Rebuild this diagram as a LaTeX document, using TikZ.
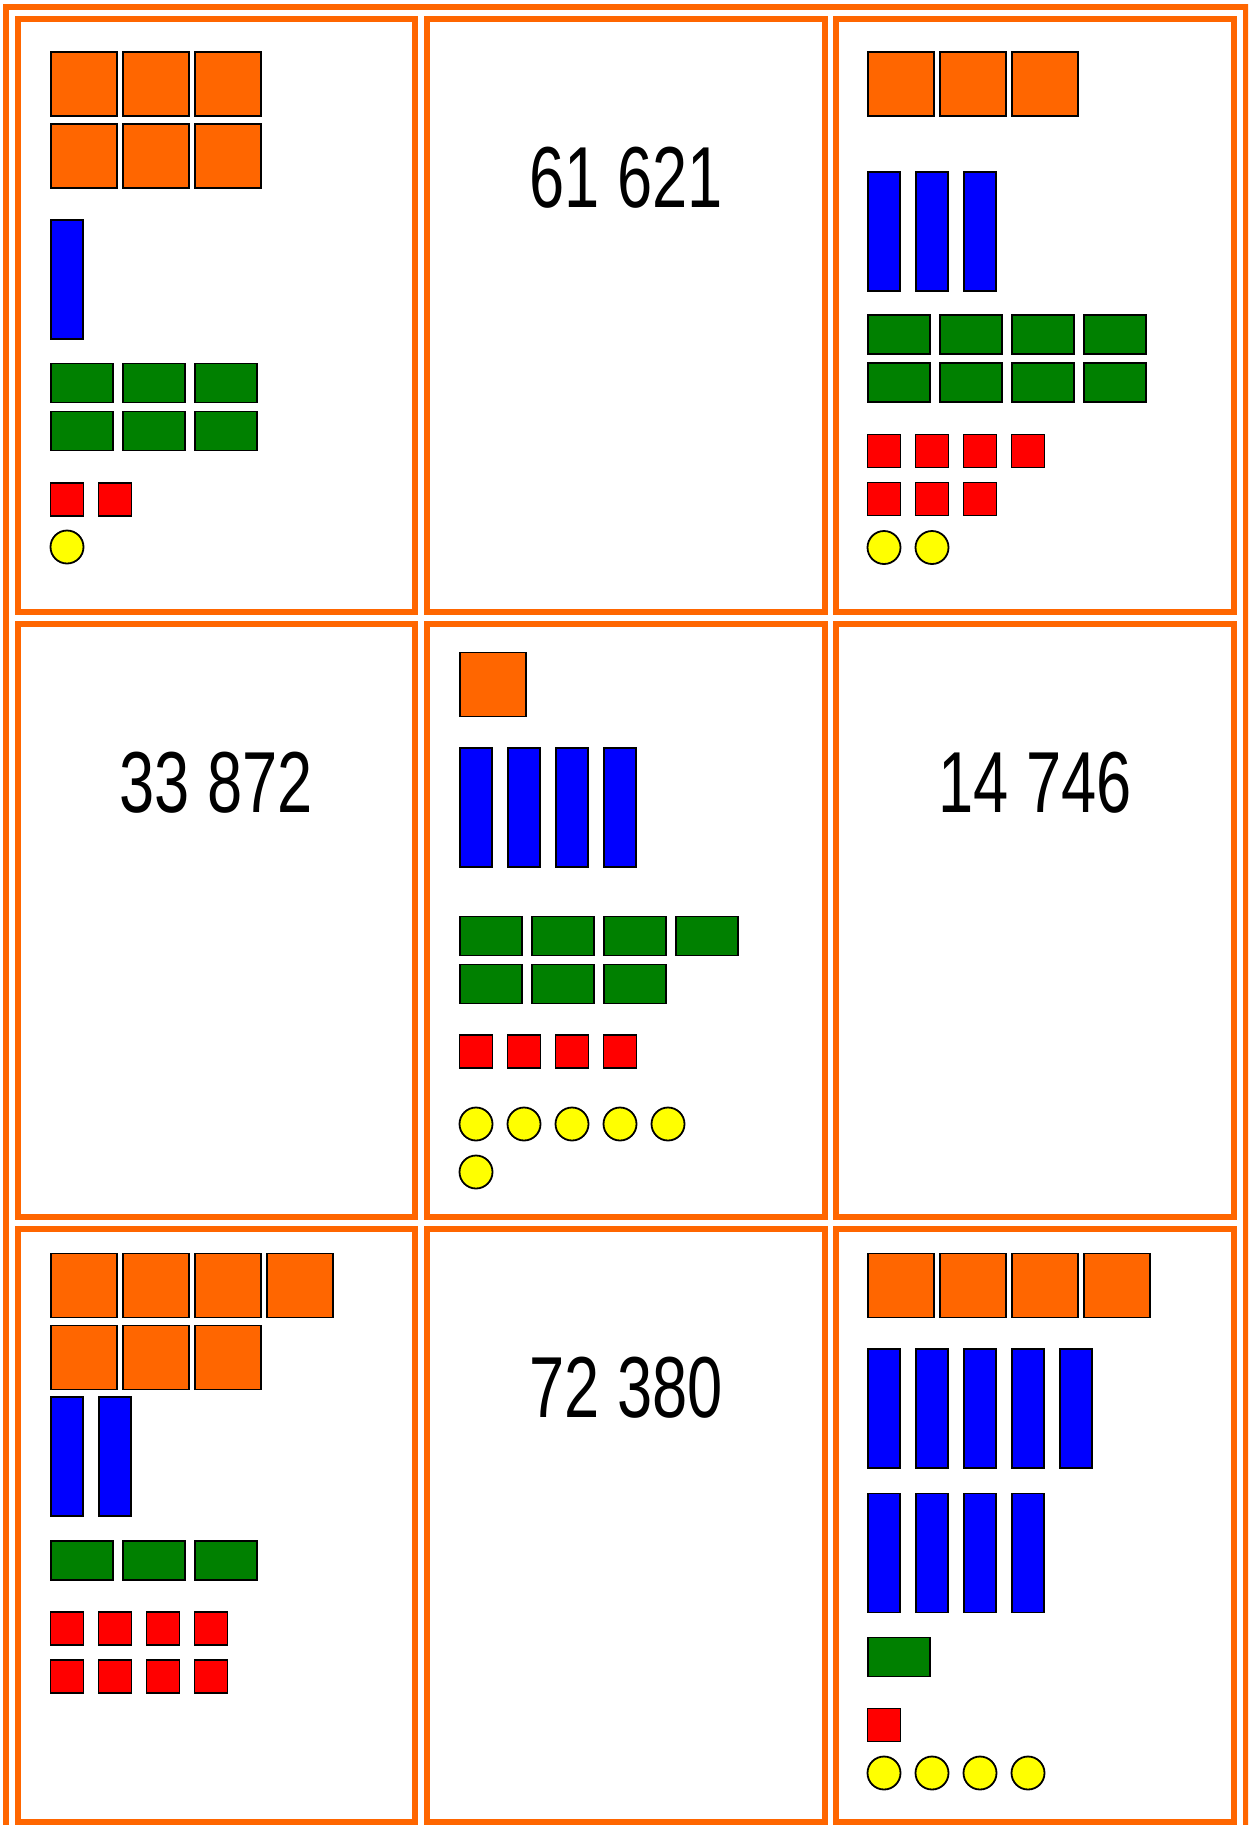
\documentclass[tikz,border=0pt]{standalone}
\usepackage{fontspec}
\usepackage{xcolor}
\usepackage{tikz}
\usetikzlibrary{positioning, calc}

\newfontfamily\numfont[FakeStretch=0.73]{Liberation Sans}

\definecolor{cardorange}{HTML}{FF6600}
\definecolor{rodblue}{HTML}{0000FF}
\definecolor{flatgreen}{HTML}{008000}
\definecolor{cubered}{HTML}{FF0000}
\definecolor{dotyellow}{HTML}{FFFF00}

\begin{document}
\begin{tikzpicture}[
      x=1pt, y=-1pt,
      block/.style={
          draw=black,
          line width=1.8pt,
          inner sep=0pt,
          outer sep=0pt
      },
      myriadbox/.style={block, fill=cardorange, minimum width=66pt, minimum height=64pt},
      thoubox/.style={block, fill=rodblue, minimum width=32pt, minimum height=119pt},
      hundbox/.style={block, fill=flatgreen, minimum width=62pt, minimum height=39pt},
      tenbox/.style={block, fill=cubered, minimum size=33pt},
      unitdot/.style={block, circle, fill=dotyellow, minimum size=33pt},
      card/.style={
          draw=cardorange,
          line width=6pt,
          minimum width=397.5pt,
          minimum height=593pt,
          inner sep=0pt,
          outer sep=0pt
      },
      numlbl/.style={
          font=\numfont\fontsize{86.6pt}{90pt}\selectfont,
          anchor=base,
          inner sep=0pt
      }
  ]
      \useasboundingbox (0,0) rectangle (1248,1825);
      \clip (0,0) rectangle (1248,1825);

      % --- Frame and cards ---
      \draw[cardorange, line width=6pt] (6,7) rectangle (1246,1834);

      \node[card] (card11) at (216.5,315.5) {};
      \node[card] (card12) at (626,315.5) {};
      \node[card] (card13) at (1035,315.5) {};
      \node[card] (card21) at (216.5,920.5) {};
      \node[card] (card22) at (626,920.5) {};
      \node[card] (card23) at (1035,920.5) {};
      \node[card] (card31) at (216.5,1525.5) {};
      \node[card] (card32) at (626,1525.5) {};
      \node[card] (card33) at (1035,1525.5) {};

      % --- Numbers ---
      \node[numlbl] (num12) at ($(card12.north) + (0,188)$) {61 621};
      \node[numlbl] (num21) at ($(card21.north) + (0,188)$) {33 872};
      \node[numlbl] (num23) at ($(card23.north) + (0,188)$) {14 746};
      \node[numlbl] (num32) at ($(card32.north) + (0,188)$) {72 380};

      % --- Card 11 ---
      \foreach \i in {0,1,2} {
          \node[myriadbox] (a-m1-\i) at ({84+72*\i},84) {};
          \node[myriadbox] (a-m2-\i) at ({84+72*\i},156) {};
          \node[hundbox] (a-h1-\i) at ({82+72*\i},383) {};
          \node[hundbox] (a-h2-\i) at ({82+72*\i},431) {};
      }
      \node[thoubox] (a-t0) at (67,279.5) {};
      \foreach \i in {0,1}
          \node[tenbox] (a-r-\i) at ({67+48*\i},499.5) {};
      \node[unitdot] (a-u0) at (67,547) {};

      % --- Card 13 ---
      \foreach \i in {0,1,2} {
          \node[myriadbox] (c-m-\i) at ({901+72*\i},84) {};
          \node[thoubox] (c-t-\i) at ({884+48*\i},231.5) {};
          \node[tenbox] (c-r2-\i) at ({884+48*\i},499) {};
      }
      \foreach \i in {0,...,3} {
          \node[hundbox] (c-h1-\i) at ({899+72*\i},334.5) {};
          \node[hundbox] (c-h2-\i) at ({899+72*\i},382.5) {};
          \node[tenbox] (c-r1-\i) at ({884+48*\i},451) {};
      }
      \foreach \i in {0,1}
          \node[unitdot] (c-u-\i) at ({884+48*\i},547.5) {};

      % --- Card 22 ---
      \node[myriadbox] (e-m0) at (493,684.5) {};
      \foreach \i in {0,...,3} {
          \node[thoubox] (e-t-\i) at ({476+48*\i},807.5) {};
          \node[hundbox] (e-h1-\i) at ({491+72*\i},936) {};
          \node[tenbox] (e-r-\i) at ({476+48*\i},1051.5) {};
      }
      \foreach \i in {0,1,2}
          \node[hundbox] (e-h2-\i) at ({491+72*\i},984) {};
      \foreach \i in {0,...,4}
          \node[unitdot] (e-u1-\i) at ({476+48*\i},1124) {};
      \node[unitdot] (e-u2-0) at (476,1172) {};

      % --- Card 31 ---
      \foreach \i in {0,...,3} {
          \node[myriadbox] (g-m1-\i) at ({84+72*\i},1285.5) {};
          \node[tenbox] (g-r1-\i) at ({67+48*\i},1628.5) {};
          \node[tenbox] (g-r2-\i) at ({67+48*\i},1676.5) {};
      }
      \foreach \i in {0,1,2} {
          \node[myriadbox] (g-m2-\i) at ({84+72*\i},1357.5) {};
          \node[hundbox] (g-h-\i) at ({82+72*\i},1560.5) {};
      }
      \foreach \i in {0,1}
          \node[thoubox] (g-t-\i) at ({67+48*\i},1456.5) {};

      % --- Card 33 ---
      \foreach \i in {0,...,3} {
          \node[myriadbox] (i-m-\i) at ({901+72*\i},1285.5) {};
          \node[thoubox] (i-t2-\i) at ({884+48*\i},1553) {};
          \node[unitdot] (i-u-\i) at ({884+48*\i},1773) {};
      }
      \foreach \i in {0,...,4}
          \node[thoubox] (i-t1-\i) at ({884+48*\i},1408.5) {};
      \node[hundbox] (i-h0) at (899,1657) {};
      \node[tenbox] (i-r0) at (884,1725) {};

  \end{tikzpicture}
\end{document}
